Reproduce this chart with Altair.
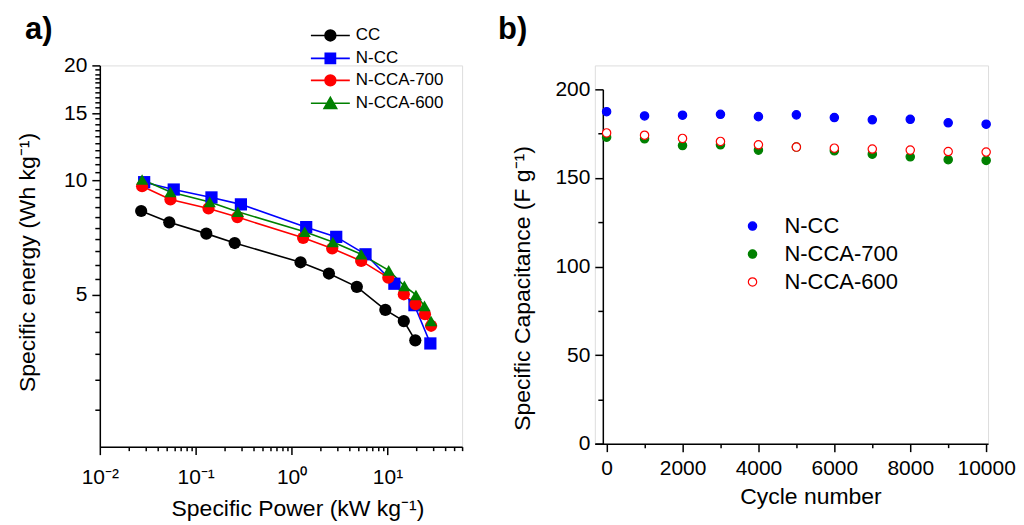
import altair as alt
import pandas as pd

FONT = "Liberation Sans"

# ---------------- Panel a: Ragone plot ----------------
series_a = ["CC", "N-CC", "N-CCA-700", "N-CCA-600"]
colors_a = ["#000000", "#0000FF", "#FF0000", "#008000"]
shapes_a = ["circle", "square", "circle", "triangle-up"]

cc_power = [0.027, 0.053, 0.129, 0.255, 1.24, 2.45, 4.79, 9.5, 14.8, 19.5]
cc_energy = [8.3, 7.75, 7.24, 6.84, 6.09, 5.69, 5.25, 4.57, 4.27, 3.8]
ncc_power = [0.029, 0.059, 0.146, 0.296, 1.42, 2.92, 5.9, 11.8, 19.1, 28.0]
ncc_energy = [9.88, 9.45, 9.01, 8.64, 7.53, 7.10, 6.39, 5.35, 4.70, 3.73]
ncca700_power = [0.0276, 0.0545, 0.136, 0.272, 1.32, 2.65, 5.32, 10.2, 14.8, 19.6, 24.6, 28.5]
ncca700_energy = [9.64, 8.90, 8.43, 8.00, 7.06, 6.62, 6.14, 5.55, 5.02, 4.73, 4.45, 4.15]
ncca600_power = [0.0276, 0.0545, 0.14, 0.275, 1.37, 2.69, 5.32, 10.3, 15.0, 19.8, 24.3, 28.5]
ncca600_energy = [10.04, 9.31, 8.77, 8.26, 7.32, 6.88, 6.39, 5.80, 5.28, 5.00, 4.68, 4.27]

xa_major = [0.01, 0.1, 1, 10]
xa_labels = ["10\u207b\u00b2", "10\u207b\u00b9", "10\u2070", "10\u00b9"]
ya_major = [5, 10, 15, 20]

# ---------------- Panel b: cycling ----------------
series_b = ["N-CC", "N-CCA-700", "N-CCA-600"]
cycles = [0, 1000, 2000, 3000, 4000, 5000, 6000, 7000, 8000, 9000, 10000]
ncc_cap = [187.4, 185.0, 185.4, 185.9, 184.6, 185.6, 184.1, 182.8, 183.1, 181.1, 180.3]
ncca700_cap = [173.0, 172.1, 168.3, 168.7, 165.7, 167.4, 165.3, 163.4, 161.9, 160.3, 159.9]
ncca600_cap = [175.4, 174.1, 172.3, 170.6, 168.7, 167.4, 166.8, 166.3, 165.7, 164.9, 164.6]
fill_b = ["#0000FF", "#008000", "#FFFFFF"]
stroke_b = ["#0000FF", "#008000", "#FF0000"]

# ---------------- tables ----------------
rows_a = []
for name, px, ey in [("CC", cc_power, cc_energy), ("N-CC", ncc_power, ncc_energy),
                     ("N-CCA-700", ncca700_power, ncca700_energy),
                     ("N-CCA-600", ncca600_power, ncca600_energy)]:
    for p, e in zip(px, ey):
        rows_a.append({"series": name, "power": p, "energy": e})
df_a = pd.DataFrame(rows_a)

rows_b = []
for name, vals in [("N-CC", ncc_cap), ("N-CCA-700", ncca700_cap), ("N-CCA-600", ncca600_cap)]:
    for c, v in zip(cycles, vals):
        rows_b.append({"series": name, "cycle": c, "cap": v})
df_b = pd.DataFrame(rows_b)

# tick value lists
xa_values = sorted(set(xa_major + [round(m * d, 6) for d in xa_major for m in range(2, 10) if m * d <= 60]))
ya_values = [k / 2 for k in range(5, 41)]
yb_values = list(range(0, 201, 25))
xb_values = list(range(0, 10001, 1000))

lbl_expr_xa = " : ".join(
    f"datum.value == {v} ? '{t}'" for v, t in zip(xa_major, xa_labels)) + " : ''"

common_axis = dict(domainColor="black", domainWidth=1.5, tickColor="black", tickWidth=1.5,
                   labelColor="black", labelFont=FONT, labelFontSize=21,
                   titleFont=FONT, titleFontSize=23, titleFontWeight="normal", titleColor="black",
                   grid=False, labelFlush=False, labelOverlap=False)

axis_xa = alt.Axis(values=xa_values, labelExpr=lbl_expr_xa,
                   tickSize={"condition": {"test": "indexof([0.01,0.1,1,10], datum.value) >= 0", "value": 8}, "value": 4},
                   labelPadding=12, title="Specific Power (kW kg\u207b\u00b9)", titleX=198, titlePadding=10,
                   **common_axis)
axis_ya = alt.Axis(values=ya_values,
                   labelExpr="indexof([5,10,15,20], datum.value) >= 0 ? '' + datum.value : ''",
                   tickSize={"condition": {"test": "indexof([5,10,15,20], datum.value) >= 0", "value": 8}, "value": 5},
                   labelPadding=5, title="Specific energy (Wh kg\u207b\u00b9)", titleY=197, titlePadding=24,
                   **common_axis)

x_a = alt.X("power:Q", scale=alt.Scale(type="log", domain=[0.01, 60], nice=False), axis=axis_xa)
y_a = alt.Y("energy:Q", scale=alt.Scale(type="log", domain=[2, 20], nice=False), axis=axis_ya)

color_a = alt.Color("series:N", scale=alt.Scale(domain=series_a, range=colors_a), legend=None)

base_a = alt.Chart(df_a)
lines_a = base_a.mark_line(strokeWidth=1.6).encode(x=x_a, y=y_a, color=color_a)
points_a = base_a.mark_point(filled=True, size=150, opacity=1).encode(
    x=x_a, y=y_a, color=color_a,
    shape=alt.Shape("series:N", scale=alt.Scale(domain=series_a, range=shapes_a), legend=None))

legend_paths = [
    "M-3.25,0H3.25M0.9,0A0.9,0.9,0,1,1,-0.9,0A0.9,0.9,0,1,1,0.9,0Z",
    "M-3.25,0H3.25M-0.85,-0.85H0.85V0.85H-0.85Z",
    "M-3.25,0H3.25M0.9,0A0.9,0.9,0,1,1,-0.9,0A0.9,0.9,0,1,1,0.9,0Z",
    "M-3.25,0H3.25M0,-1.0L1.05,0.85H-1.05Z",
]
leg_a = alt.Legend(orient="none", legendX=222.5, legendY=-38.5, title=None,
                   labelFont=FONT, labelFontSize=17, labelColor="black",
                   symbolSize=144, symbolStrokeWidth=1.6, symbolOpacity=1,
                   rowPadding=4, labelOffset=17, padding=0)
legend_layer_a = base_a.mark_point(filled=True, opacity=0).encode(
    x=x_a, y=y_a,
    fill=alt.Fill("series:N", scale=alt.Scale(domain=series_a, range=colors_a), legend=leg_a),
    stroke=alt.Stroke("series:N", scale=alt.Scale(domain=series_a, range=colors_a), legend=leg_a),
    shape=alt.Shape("series:N", scale=alt.Scale(domain=series_a, range=legend_paths), legend=leg_a),
)
label_a = alt.Chart(pd.DataFrame({"t": ["a)"]})).mark_text(
    font=FONT, fontSize=31, fontWeight="bold", align="left", baseline="alphabetic", color="black"
).encode(text="t:N", x=alt.value(-75), y=alt.value(-26))

panel_a = alt.layer(lines_a, points_a, legend_layer_a, label_a).resolve_scale(
    shape="independent", fill="independent", stroke="independent"
).properties(width=363, height=382)

# ---------------- Panel b chart ----------------
axis_xb = alt.Axis(values=xb_values, labelExpr="datum.value % 2000 == 0 ? datum.label : ''", format="d",
                   tickSize={"condition": {"test": "datum.value % 2000 == 0", "value": 8}, "value": 4},
                   labelPadding=6, title="Cycle number", titleX=216, titlePadding=7, **common_axis)
axis_yb = alt.Axis(values=yb_values, labelExpr="datum.value % 50 == 0 ? datum.label : ''", format="d",
                   tickSize={"condition": {"test": "datum.value % 50 == 0", "value": 8}, "value": 5},
                   labelPadding=5, offset=-8, title="Specific Capacitance (F g\u207b\u00b9)",
                   titleY=223, titlePadding=20, **common_axis)

leg_b = alt.Legend(orient="none", legendX=147, legendY=150, title=None,
                   labelFont=FONT, labelFontSize=22, labelColor="black",
                   symbolSize=70, symbolStrokeWidth=1.2, symbolOpacity=1, symbolType="circle",
                   rowPadding=6, labelOffset=21, padding=0)
points_b = alt.Chart(df_b).mark_point(shape="circle", size=70, strokeWidth=1.2, opacity=1).encode(
    x=alt.X("cycle:Q", scale=alt.Scale(domain=[-310, 10050], nice=False, zero=False), axis=axis_xb),
    y=alt.Y("cap:Q", scale=alt.Scale(domain=[0, 200], range=[379, 24], nice=False), axis=axis_yb),
    fill=alt.Fill("series:N", scale=alt.Scale(domain=series_b, range=fill_b), legend=leg_b),
    stroke=alt.Stroke("series:N", scale=alt.Scale(domain=series_b, range=stroke_b), legend=leg_b),
)
label_b = alt.Chart(pd.DataFrame({"t": ["b)"]})).mark_text(
    font=FONT, fontSize=31, fontWeight="bold", align="left", baseline="alphabetic", color="black"
).encode(text="t:N", x=alt.value(-97), y=alt.value(-26))

panel_b = alt.layer(points_b, label_b).properties(width=394, height=379)

chart = alt.hconcat(panel_a, panel_b, spacing=33).resolve_scale(
    fill="independent", stroke="independent", shape="independent", color="independent"
).resolve_legend(
    fill="independent", stroke="independent", shape="independent", color="independent"
).properties(
    padding={"left": 8, "top": 5, "right": 0, "bottom": 0}
).configure_view(stroke=None).configure(background="white")

chart.save("out.html", embed_options={"renderer": "svg", "actions": False})
